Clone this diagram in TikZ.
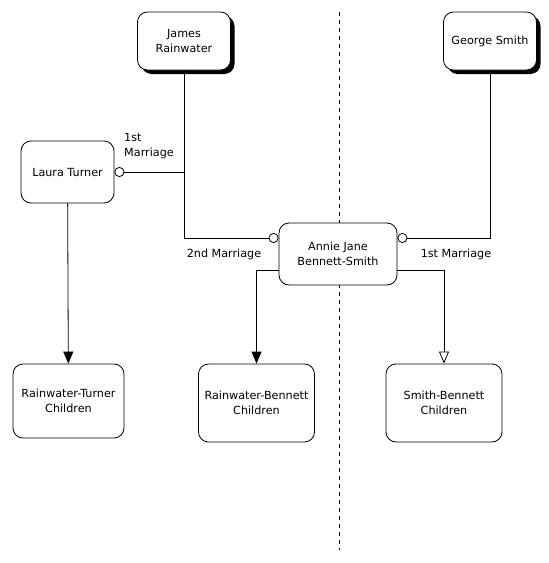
\documentclass[tikz,border=0pt]{standalone}
\usepackage{fontspec}
\setmainfont{DejaVu Sans}
\usetikzlibrary{positioning,arrows.meta,shadows}

\begin{document}
\begin{tikzpicture}[
    x=1pt, y=-1pt,
    line width=0.8pt,
    font=\fontsize{11.2}{15}\selectfont,
    person/.style={
        draw,
        fill=white,
        rounded corners=10pt,
        align=center,
        inner sep=2pt
    },
    parent/.style={
        person,
        minimum width=93pt,
        minimum height=58pt,
        drop shadow={shadow xshift=4pt, shadow yshift=-4pt, fill=black, opacity=1}
    },
    children/.style={
        person,
        minimum width=116pt,
        minimum height=78pt
    },
    marriage/.style={
        -{Circle[open, length=10pt, width=10pt]}
    },
    arrow/.style={
        -{Triangle[length=12pt, width=10pt]}
    },
    openarrow/.style={
        -{Triangle[open, length=12pt, width=10pt]}
    },
    label/.style={
        align=left,
        inner sep=0pt
    }
]
\useasboundingbox (0,0) rectangle (549,563);

% divider
\coordinate (top) at (339,12);
\coordinate (bottom) at (339,550);
\draw[dash pattern=on 4pt off 4pt] (top) -- (bottom);

\node[parent] (james) at (184,41) {James\\Rainwater};

\node[parent] (george) at (490,41) {George Smith};

\node[person, minimum width=93pt, minimum height=62pt] (laura) at (67.5,172) {Laura Turner};

\node[person, minimum width=118pt, minimum height=62pt] (annie) at (338,254) {Annie Jane\\Bennett-Smith};

\node[children, minimum width=111pt, minimum height=74pt] (rt) at (68.5,401) {Rainwater-Turner\\Children};

\node[children] (rb) at (256.5,403) {Rainwater-Bennett\\Children};

\node[children] (sb) at (444,403) {Smith-Bennett\\Children};

\coordinate (join) at (james.south |- laura.east);

\draw[marriage] (james) |- ([yshift=16pt]annie.west);

\draw[marriage] (join) -- (laura);

\draw[marriage] (george) |- ([yshift=16pt]annie.east);

\draw[arrow] (laura) -- (rt);

\draw[arrow] ([yshift=-16pt]annie.west) -| (rb.north);

\draw[openarrow] ([yshift=-16pt]annie.east) -| (sb.north);

\node[label] (first) at (149,146) {1st\\Marriage};
\node[label] (second) at (224,254) {2nd Marriage};
\node[label] (third) at (456,254) {1st Marriage};

\end{tikzpicture}
\end{document}
